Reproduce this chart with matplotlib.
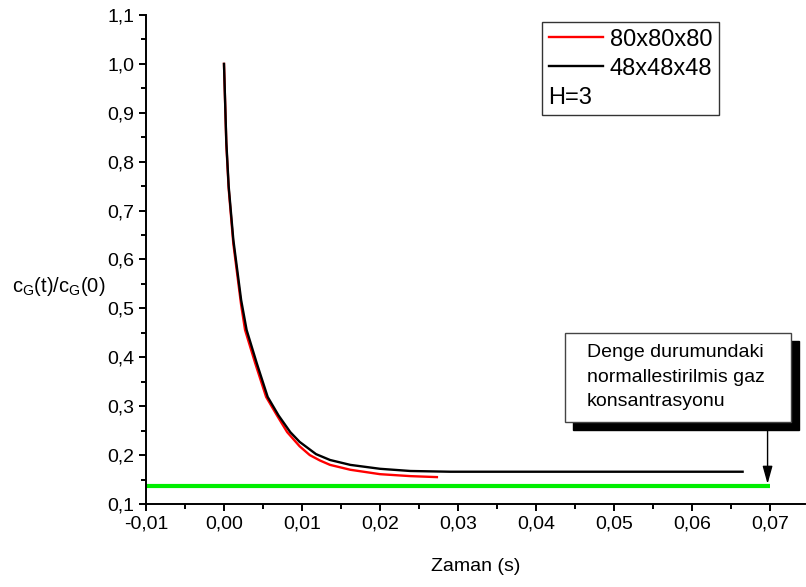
import matplotlib
matplotlib.use("Agg")
import matplotlib.pyplot as plt
from matplotlib.patches import Rectangle
from matplotlib.lines import Line2D
from matplotlib.ticker import MultipleLocator, FuncFormatter

plt.rcParams['font.family'] = ['Liberation Sans', 'DejaVu Sans']

# Data
t_black = [0.0, 0.0003, 0.0006, 0.0012, 0.0022, 0.0029, 0.0042, 0.0056, 0.0070, 0.0085,
           0.0097, 0.0118, 0.0136, 0.0162, 0.0200, 0.0239, 0.029, 0.040, 0.050, 0.060, 0.0665]
c_black = [1.0, 0.84, 0.75, 0.64, 0.517, 0.456, 0.388, 0.319, 0.281, 0.247,
           0.227, 0.202, 0.190, 0.180, 0.172, 0.1675, 0.166, 0.166, 0.166, 0.166, 0.166]

t_red = [0.0, 0.0003, 0.0006, 0.0012, 0.0022, 0.0027, 0.0040, 0.0054, 0.0068, 0.0081,
         0.0097, 0.0110, 0.0123, 0.0136, 0.0162, 0.0200, 0.0239, 0.0273]
c_red = [1.0, 0.835, 0.745, 0.632, 0.507, 0.456, 0.388, 0.319, 0.281, 0.247,
         0.218, 0.200, 0.189, 0.180, 0.170, 0.161, 0.157, 0.155]

green_t = [-0.01, 0.07]
green_c = [0.137, 0.137]

label_red = "80x80x80"
label_black = "48x48x48"
label_h = "H=3"
annot_text = "Denge durumundaki\nnormallestirilmis gaz\nkonsantrasyonu"

W, H = 806, 587
DPI = 100


def fx(px):
    return px / W


def fy(py):
    return 1 - py / H


fig = plt.figure(figsize=(W / DPI, H / DPI), dpi=DPI)
ax = fig.add_axes([fx(146), fy(504), (805 - 146) / W, (504 - 15) / H])

ax.plot(green_t, green_c, color='#00ee00', lw=3.0, solid_capstyle='butt', zorder=2)
ax.plot(t_red, c_red, color='#ff0000', lw=1.7, zorder=3)
ax.plot(t_black, c_black, color='black', lw=1.7, zorder=4)

ax.set_xlim(-0.01, 0.0745)
ax.set_ylim(0.1, 1.1)
ax.spines['top'].set_visible(False)
ax.spines['right'].set_visible(False)
for s in ('left', 'bottom'):
    ax.spines[s].set_linewidth(1.4)

ax.xaxis.set_major_locator(MultipleLocator(0.01))
ax.xaxis.set_minor_locator(MultipleLocator(0.005))
ax.yaxis.set_major_locator(MultipleLocator(0.1))
ax.yaxis.set_minor_locator(MultipleLocator(0.05))
ax.tick_params(which='major', direction='out', length=5, width=1.4, labelsize=14, pad=3.5)
ax.tick_params(which='minor', direction='out', length=3.5, width=1.4)

ax.xaxis.set_major_formatter(FuncFormatter(lambda v, p: f"{v:.2f}".replace('.', ',').replace('-0,00', '0,00')))
ax.yaxis.set_major_formatter(FuncFormatter(lambda v, p: f"{v:.1f}".replace('.', ',')))

ax.set_xlabel("Zaman (s)", fontsize=14, labelpad=18)
fig.text(fx(12), fy(287), r"$\mathregular{c_G(t)/c_G(0)}$", fontsize=14.5,
         ha='left', va='center')

leg_fs = 17
handles = [Line2D([], [], color='#ff0000', lw=1.7),
           Line2D([], [], color='black', lw=1.7),
           Line2D([], [], color='none')]
leg = fig.legend(handles, [label_red, label_black, label_h], loc='upper right',
                 bbox_to_anchor=(fx(719), fy(22)), bbox_transform=fig.transFigure,
                 fontsize=leg_fs, frameon=True, fancybox=False, framealpha=1,
                 edgecolor='#333333', handlelength=2.3, handletextpad=0.3,
                 labelspacing=0.3, borderpad=0.28, borderaxespad=0)
leg.get_frame().set_linewidth(1.0)
shift_px = (2.3 + 0.3) * leg_fs * DPI / 72
leg.get_texts()[2].set_position((-shift_px, 0))

# Annotation box with shadow
bx0, bx1, by0, by1 = 565, 791, 333, 422
fig.patches.append(Rectangle((fx(bx0 + 8), fy(by1 + 8)), (bx1 - bx0) / W, (by1 - by0) / H,
                             transform=fig.transFigure, facecolor='black', edgecolor='black', zorder=5))
fig.patches.append(Rectangle((fx(bx0), fy(by1)), (bx1 - bx0) / W, (by1 - by0) / H,
                             transform=fig.transFigure, facecolor='white', edgecolor='#444444',
                             lw=1.0, zorder=6))
fig.text(fx(587), fy(377), annot_text, fontsize=14, ha='left', va='center',
         linespacing=1.6, zorder=7)

ax.annotate("", xy=(0.0697, green_c[0] + 0.004), xycoords='data',
            xytext=(0.0697, 0.1 + (504 - 430) / 489), textcoords='data',
            arrowprops=dict(arrowstyle='-|>,head_length=0.9,head_width=0.25', color='black',
                            lw=1.0, mutation_scale=12, shrinkA=0, shrinkB=0),
            annotation_clip=False)

fig.savefig("out.png", dpi=DPI)
